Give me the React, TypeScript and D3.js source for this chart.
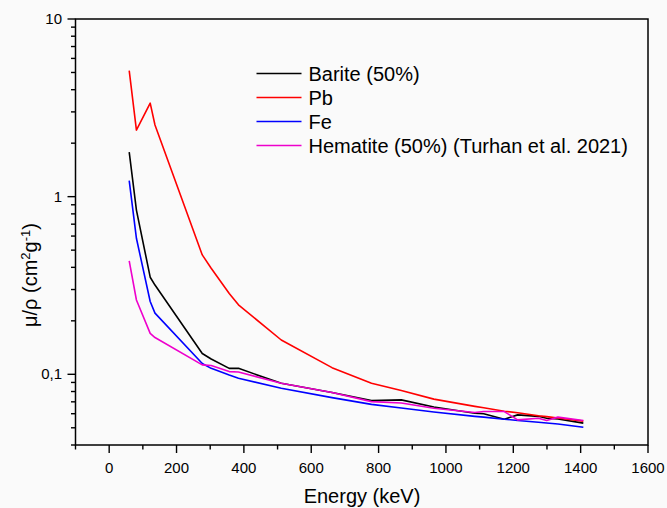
import React from "react";
import * as d3 from "d3";

const energies = [59.5, 80.9, 121.8, 136, 276.4, 302.9, 356.5, 383.9, 511, 661.7, 778.9, 867.4, 964.1, 1085.8, 1112.1, 1173.2, 1212.9, 1274.5, 1299.1, 1332.5, 1408];

const barite = [1.78, 0.84, 0.352, 0.318, 0.131, 0.122, 0.108, 0.108, 0.089, 0.079, 0.0711, 0.0718, 0.0655, 0.0604, 0.060, 0.0559, 0.0591, 0.058, 0.0566, 0.056, 0.0531];
const pb = [5.12, 2.37, 3.36, 2.53, 0.47, 0.395, 0.285, 0.246, 0.156, 0.109, 0.089, 0.081, 0.0725, 0.066, 0.0648, 0.062, 0.0607, 0.0585, 0.0578, 0.0568, 0.0545];
const fe = [1.23, 0.583, 0.257, 0.221, 0.115, 0.108, 0.099, 0.095, 0.0835, 0.0739, 0.0677, 0.0646, 0.0614, 0.058, 0.0574, 0.0559, 0.055, 0.0537, 0.0532, 0.0525, 0.0503];
const hematite = [0.435, 0.262, 0.17, 0.161, 0.113, 0.112, 0.1036, 0.103, 0.089, 0.079, 0.0702, 0.069, 0.0644, 0.0609, 0.0617, 0.0617, 0.0554, 0.0566, 0.0549, 0.0574, 0.0549];

const seriesNames = ["Barite (50%)", "Pb", "Fe", "Hematite (50%) (Turhan et al. 2021)"];
const seriesColors = ["#000000", "#ff0000", "#0000ff", "#ee00cc"];
const seriesValues = [barite, pb, fe, hematite];

const xMajorTicks = [0, 200, 400, 600, 800, 1000, 1200, 1400, 1600];
const xMinorTicks = [-100, 100, 300, 500, 700, 900, 1100, 1300, 1500];
const yMajorTicks = [10, 1, 0.1];
const yTickLabels = ["10", "1", "0,1"];

const W = 667;
const H = 508;
const FONT = "'Liberation Sans', Arial, sans-serif";

export default function App() {
  const left = 75.5, right = 648, top = 19, bottom = 445;
  const x = d3.scaleLinear().domain([-100, 1600]).range([left, right]);
  const y = d3.scaleLog().domain([0.04, 10]).range([bottom, top]);

  const yMinor: number[] = [];
  [0.01, 0.1, 1].forEach((d) => {
    for (let k = 2; k <= 9; k++) {
      const v = d * k;
      if (v >= 0.04 && v <= 10) yMinor.push(v);
    }
  });

  const line = d3
    .line<[number, number]>()
    .x((d) => x(d[0]))
    .y((d) => y(d[1]));

  const legendX = 256.5, legendY = 73.5, legendDy = 24;

  return (
    <svg
      width={W}
      height={H}
      style={{ position: "absolute", left: 0, top: 0, background: "#fafafa" }}
      fontFamily={FONT}
    >
      <rect x={0} y={0} width={W} height={H} fill="#fafafa" />
      {seriesValues.map((vals, i) => (
        <path
          key={i}
          d={line(energies.map((e, j) => [e, vals[j]] as [number, number])) || ""}
          fill="none"
          stroke={seriesColors[i]}
          strokeWidth={1.6}
          strokeLinejoin="round"
        />
      ))}
      {/* frame */}
      <rect x={left} y={top} width={right - left} height={bottom - top} fill="none" stroke="#000" strokeWidth={1.5} />
      {/* x ticks */}
      {xMajorTicks.map((t) => (
        <g key={"xm" + t}>
          <line x1={x(t)} x2={x(t)} y1={bottom} y2={bottom + 8} stroke="#000" strokeWidth={1.4} />
          <text x={x(t)} y={473} textAnchor="middle" fontSize={15}>
            {t}
          </text>
        </g>
      ))}
      {xMinorTicks.map((t) => (
        <line key={"xn" + t} x1={x(t)} x2={x(t)} y1={bottom} y2={bottom + 4.5} stroke="#000" strokeWidth={1.4} />
      ))}
      {/* y ticks */}
      {yMajorTicks.map((t, i) => (
        <g key={"ym" + t}>
          <line x1={left - 8} x2={left} y1={y(t)} y2={y(t)} stroke="#000" strokeWidth={1.4} />
          <text x={62} y={y(t) + 5} textAnchor="end" fontSize={15}>
            {yTickLabels[i]}
          </text>
        </g>
      ))}
      {yMinor.map((t) => (
        <line key={"yn" + t} x1={left - 4.5} x2={left} y1={y(t)} y2={y(t)} stroke="#000" strokeWidth={1.4} />
      ))}
      {/* axis titles */}
      <text x={362} y={503} textAnchor="middle" fontSize={20}>
        Energy (keV)
      </text>
      <text transform={`translate(37,275) rotate(-90)`} textAnchor="middle" fontSize={20}>
        μ/ρ (cm
        <tspan dy={-7} fontSize={13}>2</tspan>
        <tspan dy={7}>g</tspan>
        <tspan dy={-7} fontSize={13}>-1</tspan>
        <tspan dy={7}>)</tspan>
      </text>
      {/* legend */}
      {seriesNames.map((n, i) => (
        <g key={"lg" + i}>
          <line
            x1={legendX}
            x2={legendX + 45}
            y1={legendY + i * legendDy}
            y2={legendY + i * legendDy}
            stroke={seriesColors[i]}
            strokeWidth={1.6}
          />
          <text x={legendX + 52} y={legendY + i * legendDy + 7} fontSize={20}>
            {n}
          </text>
        </g>
      ))}
    </svg>
  );
}
